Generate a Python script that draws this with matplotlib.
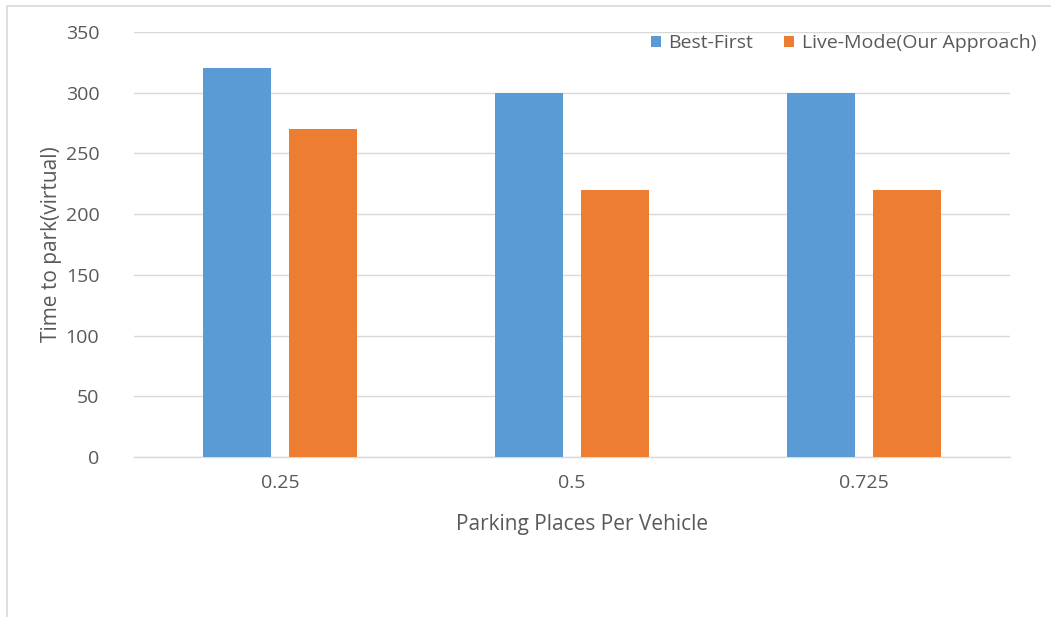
import matplotlib
matplotlib.use("Agg")
import matplotlib.pyplot as plt
from matplotlib.lines import Line2D
import numpy as np

categories = ["0.25", "0.5", "0.725"]
best_first = [320, 300, 300]
live_mode = [270, 220, 220]
series_names = ["Best-First", "Live-Mode(Our Approach)"]
yticks = [0, 50, 100, 150, 200, 250, 300, 350]

plt.rcParams["font.family"] = ["Open Sans", "DejaVu Sans"]
text_color = "#595959"
grid_color = "#D9D9D9"
blue = "#5B9BD5"
orange = "#ED7D31"

W, H = 1051, 617
fig = plt.figure(figsize=(W / 100, H / 100), dpi=100)
ax = fig.add_axes([134 / W, 1 - 457 / H, (1010 - 134) / W, (457 - 32) / H])

x = np.arange(len(categories))
width = 0.23
offset = 0.147
ax.bar(x - offset, best_first, width, color=blue, label=series_names[0], zorder=3)
ax.bar(x + offset, live_mode, width, color=orange, label=series_names[1], zorder=3)

ax.set_xlim(-0.5, len(categories) - 0.5)
ax.set_ylim(0, 350)
ax.set_yticks(yticks)
ax.set_xticks(x)
ax.set_xticklabels(categories)
ax.yaxis.grid(True, color=grid_color, linewidth=1.0, zorder=0)
ax.set_axisbelow(True)
for side in ["top", "right", "left"]:
    ax.spines[side].set_visible(False)
ax.spines["bottom"].set_color(grid_color)
ax.spines["bottom"].set_linewidth(1.0)
ax.tick_params(axis="both", length=0, labelsize=14, colors=text_color)
ax.tick_params(axis="y", pad=25)
ax.tick_params(axis="x", pad=12)

ax.set_ylabel("Time to park(virtual)", fontsize=15, color=text_color)
ax.set_xlabel("Parking Places Per Vehicle", fontsize=15, color=text_color)
ax.yaxis.set_label_coords(-0.082, 0.50)
ax.xaxis.set_label_coords(0.511, -0.134)

fig.legend(loc="center right", bbox_to_anchor=(1046 / W, 1 - 43 / H), ncol=2,
           frameon=False, fontsize=14, labelcolor=text_color, borderpad=0,
           handlelength=0.5, handleheight=0.5, handletextpad=0.4, columnspacing=1.6)

# light frame around the chart area
fig.add_artist(Line2D([7 / W, 7 / W, 1.0], [0.0, 1 - 6 / H, 1 - 6 / H],
                      transform=fig.transFigure, color=grid_color, linewidth=1.2))

fig.savefig("out.png", dpi=100, facecolor="white")
